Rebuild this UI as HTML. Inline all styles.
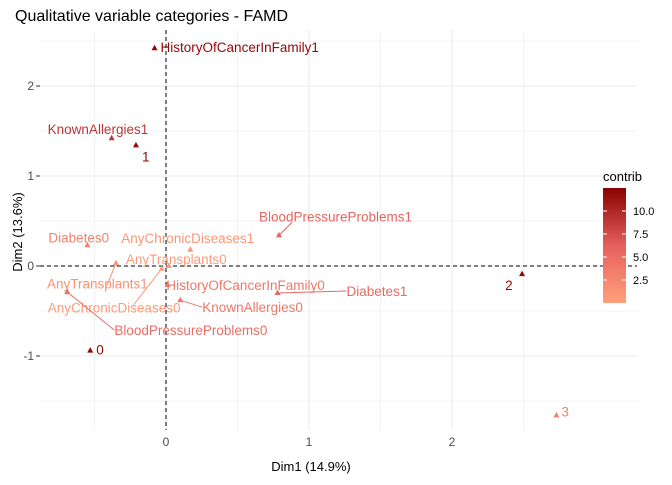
<!DOCTYPE html>
<html><head><meta charset="utf-8"><style>
body{margin:0;background:#fff;font-family:"Liberation Sans",sans-serif}
svg text{font-family:"Liberation Sans",sans-serif}
</style></head><body>
<svg id="c" width="672" height="480">
<defs><linearGradient id="g" x1="0" y1="1" x2="0" y2="0">
<stop offset="0" stop-color="#FFA07A"/><stop offset="0.5" stop-color="#E5605E"/><stop offset="1" stop-color="#8B0000"/></linearGradient></defs>
<text x="15" y="21" font-size="16" fill="#000">Qualitative variable categories - FAMD</text>
<g id="grid"></g><g id="marks"></g>
<text x="311" y="471" font-size="13" text-anchor="middle">Dim1 (14.9%)</text>
<text transform="translate(22,232) rotate(-90)" font-size="13" text-anchor="middle">Dim2 (13.6%)</text>
<text x="603" y="181" font-size="13">contrib</text>
<rect x="603" y="188" width="23" height="115" fill="url(#g)"/>
<g id="leg"></g>
</svg>
<script>
const names=["HistoryOfCancerInFamily1","KnownAllergies1","1","BloodPressureProblems1","Diabetes0","AnyChronicDiseases1","AnyTransplants1","AnyTransplants0","AnyChronicDiseases0","BloodPressureProblems0","HistoryOfCancerInFamily0","KnownAllergies0","Diabetes1","0","2","3"];
const dim1=[-0.08,-0.38,-0.21,0.79,-0.55,0.17,-0.35,0.02,-0.03,-0.69,0.01,0.10,0.78,-0.53,2.49,2.73];
const dim2=[2.42,1.42,1.34,0.34,0.23,0.18,0.03,0.0,-0.03,-0.29,-0.21,-0.38,-0.30,-0.94,-0.09,-1.66];
const contrib=[12,9,12,6,3,1,1.5,0.5,0.5,5,4,4,5.5,12,12,3];
const xTicks=[0,1,2];
const yTicks=[-1,0,1,2];
const legTicks=[2.5,5.0,7.5,10.0];
// label placement offsets (px from mark): text dx, dy, leader end dx, dy
const lab=[[6,4,null],[-64,-4,null],[6,16,null],[-20,-14,[13,-13]],[-39,-3,null],[-69,-7,null],[-69,25,[-9,22]],[-43,-2,null],[-114,44,[-28,36]],[47,43,[47,38]],[-1,5,null],[22,12,[22,7]],[69,3,[69,-2]],[6,4,null],[-17,16,null],[5,1,null]];
const X=v=>166+v*143, Y=v=>266-v*90;
const L=v=>303-v*9.2;
const ns="http://www.w3.org/2000/svg";
function mk(t,a,p){const e=document.createElementNS(ns,t);for(const k in a)e.setAttribute(k,a[k]);p.appendChild(e);return e;}
function col(v){const t=Math.max(0,Math.min(1,v/12.5));const s=[[255,160,122],[229,96,94],[139,0,0]];let a,b,f;if(t<0.5){a=s[0];b=s[1];f=t/0.5}else{a=s[1];b=s[2];f=(t-0.5)/0.5}return `rgb(${a.map((x,i)=>Math.round(x+(b[i]-x)*f)).join(',')})`;}
const G=document.getElementById('grid'),M=document.getElementById('marks'),LG=document.getElementById('leg');
for(let v=-0.5;v<=2.51;v+=0.5){const l=mk('line',{x1:X(v),x2:X(v),y1:30,y2:430,stroke:'#ebebeb','stroke-width':Number.isInteger(v)?1.1:0.6},G);}
for(let v=-1.5;v<=2.51;v+=0.5){const l=mk('line',{x1:40,x2:637,y1:Y(v),y2:Y(v),stroke:'#ebebeb','stroke-width':Number.isInteger(v)?1.1:0.6},G);}
xTicks.forEach(v=>{const t=mk('text',{x:X(v),y:446,'font-size':12,'text-anchor':'middle',fill:'#4d4d4d'},G);t.textContent=v;});
yTicks.forEach(v=>{const t=mk('text',{x:34,y:Y(v)+4,'font-size':12,'text-anchor':'end',fill:'#4d4d4d'},G);t.textContent=v;mk('line',{x1:36,x2:40,y1:Y(v),y2:Y(v),stroke:'#333'},G);});
let d=mk('line',{x1:X(0),x2:X(0),y1:30,y2:430,stroke:'#000','stroke-dasharray':'4,3'},G);
d=mk('line',{x1:40,x2:637,y1:Y(0),y2:Y(0),stroke:'#000','stroke-dasharray':'4,3'},G);
names.forEach((n,i)=>{const x=X(dim1[i]),y=Y(dim2[i]),c=col(contrib[i]);const o=lab[i];
 if(o[2]){const ln=mk('line',{x1:x,y1:y,x2:x+o[2][0],y2:y+o[2][1],stroke:c,'stroke-width':1},M);}
 const p=mk('polygon',{points:`${x},${y-3.5} ${x-3},${y+2} ${x+3},${y+2}`,fill:c},M);
 const t=mk('text',{x:x+o[0],y:y+o[1],'font-size':13.5,fill:c},M);t.textContent=n;});
legTicks.forEach(v=>{mk('line',{x1:603,x2:607,y1:L(v),y2:L(v),stroke:'#fff'},LG);mk('line',{x1:622,x2:626,y1:L(v),y2:L(v),stroke:'#fff'},LG);const t=mk('text',{x:633,y:L(v)+4,'font-size':11,fill:'#000'},LG);t.textContent=v.toFixed(1);});
</script>
</body></html>
